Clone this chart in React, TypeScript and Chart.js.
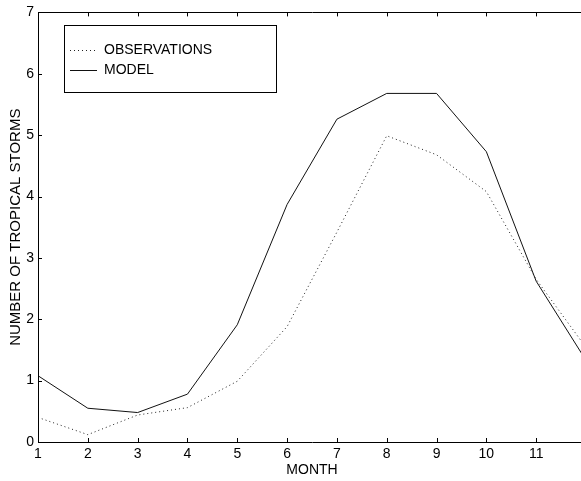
import { useEffect, useRef } from "react";
import { Chart, registerables } from "chart.js";

Chart.register(...registerables);

// Monthly climatology of tropical storm counts
const months = [1, 2, 3, 4, 5, 6, 7, 8, 9, 10, 11, 12];
const observations = [0.4, 0.12, 0.44, 0.56, 0.99, 1.88, 3.42, 4.99, 4.68, 4.08, 2.65, 1.54];
const model = [1.08, 0.55, 0.48, 0.78, 1.91, 3.87, 5.26, 5.68, 5.68, 4.73, 2.62, 1.33];
const xTickLabels = ["1", "2", "3", "4", "5", "6", "7", "8", "9", "10", "11", ""];
const yTickValues = [0, 1, 2, 3, 4, 5, 6, 7];

const FONT = "'Liberation Sans', Arial, Helvetica, sans-serif";

// Box frame with inward tick marks on all four sides
const framePlugin = {
  id: "frame",
  afterDraw(chart: any) {
    const { ctx, chartArea } = chart;
    const { left, right, top, bottom } = chartArea;
    const xs = chart.scales.x;
    const ys = chart.scales.y;
    const len = 4;
    ctx.save();
    ctx.strokeStyle = "#000";
    ctx.lineWidth = 1;
    ctx.beginPath();
    ctx.rect(Math.round(left) + 0.5, Math.round(top) + 0.5, Math.round(right - left), Math.round(bottom - top));
    ctx.stroke();
    ctx.beginPath();
    months.forEach((m) => {
      const px = Math.round(xs.getPixelForValue(m)) + 0.5;
      ctx.moveTo(px, bottom);
      ctx.lineTo(px, bottom - len);
      ctx.moveTo(px, top);
      ctx.lineTo(px, top + len);
    });
    yTickValues.forEach((v) => {
      const py = Math.round(ys.getPixelForValue(v)) + 0.5;
      ctx.moveTo(left, py);
      ctx.lineTo(left + len, py);
      ctx.moveTo(right, py);
      ctx.lineTo(right - len, py);
    });
    ctx.stroke();
    ctx.restore();
  },
};

// Boxed legend in the upper-left corner of the plot
const boxLegendPlugin = {
  id: "boxLegend",
  afterDatasetsDraw(chart: any) {
    const { ctx } = chart;
    const bx = 64.5;
    const by = 25.5;
    const bw = 212;
    const bh = 67;
    ctx.save();
    ctx.fillStyle = "#fff";
    ctx.fillRect(bx, by, bw, bh);
    ctx.strokeStyle = "#000";
    ctx.lineWidth = 1;
    ctx.strokeRect(bx, by, bw, bh);
    ctx.font = `14px ${FONT}`;
    ctx.textBaseline = "middle";
    ctx.textAlign = "left";
    chart.data.datasets.forEach((ds: any, i: number) => {
      const y = 50.5 + i * 20;
      ctx.beginPath();
      ctx.strokeStyle = ds.borderColor;
      ctx.lineWidth = ds.borderWidth;
      ctx.setLineDash(ds.borderDash || []);
      ctx.moveTo(70, y);
      ctx.lineTo(97, y);
      ctx.stroke();
      ctx.setLineDash([]);
      ctx.fillStyle = "#000";
      ctx.fillText(ds.label, 104, y);
    });
    ctx.restore();
  },
};

export default function App() {
  const canvasRef = useRef<HTMLCanvasElement | null>(null);

  useEffect(() => {
    const canvas = canvasRef.current;
    if (!canvas) return;
    const chart = new Chart(canvas, {
      type: "line",
      data: {
        datasets: [
          {
            label: "OBSERVATIONS",
            data: months.map((m, i) => ({ x: m, y: observations[i] })),
            borderColor: "#222",
            borderWidth: 1,
            borderDash: [1, 3],
            pointRadius: 0,
            fill: false,
            tension: 0,
          },
          {
            label: "MODEL",
            data: months.map((m, i) => ({ x: m, y: model[i] })),
            borderColor: "#111",
            borderWidth: 1,
            pointRadius: 0,
            fill: false,
            tension: 0,
          },
        ],
      },
      options: {
        responsive: false,
        animation: false,
        devicePixelRatio: 1,
        layout: { padding: { top: 10, right: 4, left: 0, bottom: 0 } },
        plugins: {
          legend: { display: false },
          tooltip: { enabled: false },
        },
        scales: {
          x: {
            type: "linear",
            min: 1,
            max: 12,
            ticks: {
              stepSize: 1,
              color: "#000",
              padding: 4,
              maxRotation: 0,
              autoSkip: false,
              font: { family: FONT, size: 14 },
              callback: (v: any) => xTickLabels[months.indexOf(Number(v))] ?? "",
            },
            grid: { display: false, drawTicks: false },
            border: { display: false },
            title: {
              display: true,
              text: "MONTH",
              color: "#000",
              font: { family: FONT, size: 14 },
              padding: { top: 0, bottom: 2 },
            },
            afterFit: (s: any) => {
              s.height = 39;
            },
          },
          y: {
            type: "linear",
            min: 0,
            max: 7,
            ticks: {
              stepSize: 1,
              color: "#000",
              padding: 4,
              font: { family: FONT, size: 14 },
            },
            grid: { display: false, drawTicks: false },
            border: { display: false },
            title: {
              display: true,
              text: "NUMBER OF TROPICAL STORMS",
              color: "#000",
              font: { family: FONT, size: 15 },
              padding: { top: 7, bottom: 0 },
            },
            afterFit: (s: any) => {
              s.width = 38;
            },
          },
        },
      },
      plugins: [framePlugin, boxLegendPlugin],
    });
    return () => chart.destroy();
  }, []);

  return (
    <div
      style={{
        position: "absolute",
        left: 0,
        top: 0,
        width: 581,
        height: 481,
        overflow: "hidden",
        background: "#fff",
      }}
    >
      <canvas ref={canvasRef} width={590} height={481} style={{ display: "block", width: 590, height: 481 }} />
    </div>
  );
}
